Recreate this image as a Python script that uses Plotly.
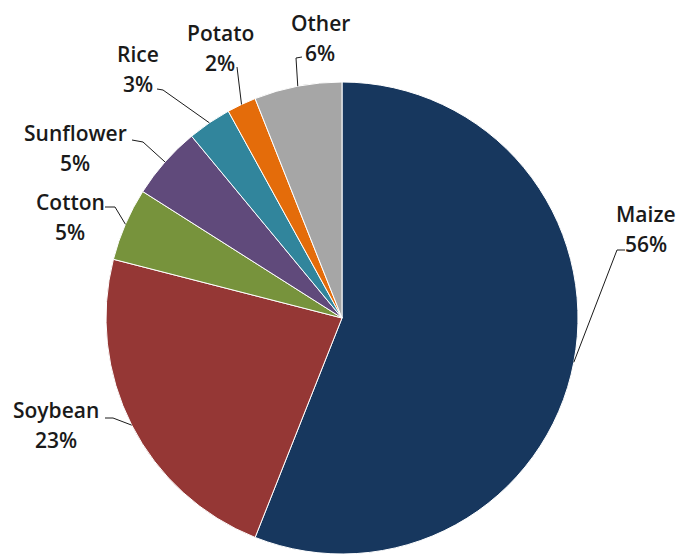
import math
import plotly.graph_objects as go

# ---- data ----
crops = ["Maize", "Soybean", "Cotton", "Sunflower", "Rice", "Potato", "Other"]
shares = [56, 23, 5, 5, 3, 2, 6]
colors = ["#17375E", "#953735", "#77933C", "#604A7B", "#31859C", "#E46C0A", "#A6A6A6"]

W, H = 678, 555
CX, CY, R = 342, 318, 236  # pie placement in pixels

# label layout (pixel positions of label block centre and leader stub)
label_pos = {
    "Maize": (646, 229), "Soybean": (56, 425), "Cotton": (70, 217),
    "Sunflower": (75, 148), "Rice": (138, 69), "Potato": (220, 48), "Other": (320, 38),
}
LINE_GAP = 15
stub = {
    "Maize": [(625, 250), (617, 250)],
    "Soybean": [(105, 418), (113, 418)],
    "Cotton": [(105, 207), (115, 207)],
    "Sunflower": [(132, 140), (143, 142)],
    "Rice": [(157, 89), (163, 90)],
    "Potato": [(237, 67)],
    "Other": [(302, 57), (296, 58)],
}


def px(x, y):
    return x / W, 1 - y / H


fig = go.Figure(go.Pie(
    labels=crops, values=shares, sort=False, direction="clockwise", rotation=0,
    marker=dict(colors=colors, line=dict(color="#ffffff", width=1)),
    textinfo="none", hoverinfo="label+percent", showlegend=False,
    domain=dict(x=[(CX - R) / W, (CX + R) / W], y=[1 - (CY + R) / H, 1 - (CY - R) / H]),
))

font = dict(family="Open Sans", size=21, color="#1a1a1a", weight=600)
total = sum(shares)
cum = 0
shapes = []
annotations = []
for name, v in zip(crops, shares):
    mid = (cum + v / 2) / total * 2 * math.pi
    cum += v
    ex, ey = CX + R * math.sin(mid), CY - R * math.cos(mid)
    pts = stub[name] + [(ex, ey)]
    path = ""
    for i, (x, y) in enumerate(pts):
        a, b = px(x, y)
        path += ("M" if i == 0 else " L") + f" {a} {b}"
    shapes.append(dict(type="path", xref="paper", yref="paper", path=path,
                       line=dict(color="#1a1a1a", width=1)))
    bx, by = label_pos[name]
    for txt, dy in ((name, -LINE_GAP), (f"{round(v / total * 100)}%", LINE_GAP)):
        lx, ly = px(bx, by + dy)
        annotations.append(dict(
            x=lx, y=ly, xref="paper", yref="paper", xanchor="center", yanchor="middle",
            text=txt, showarrow=False, font=font,
        ))

fig.update_layout(
    width=W, height=H, margin=dict(l=0, r=0, t=0, b=0),
    paper_bgcolor="white", plot_bgcolor="white",
    shapes=shapes, annotations=annotations,
)

fig.write_html("out.html")
